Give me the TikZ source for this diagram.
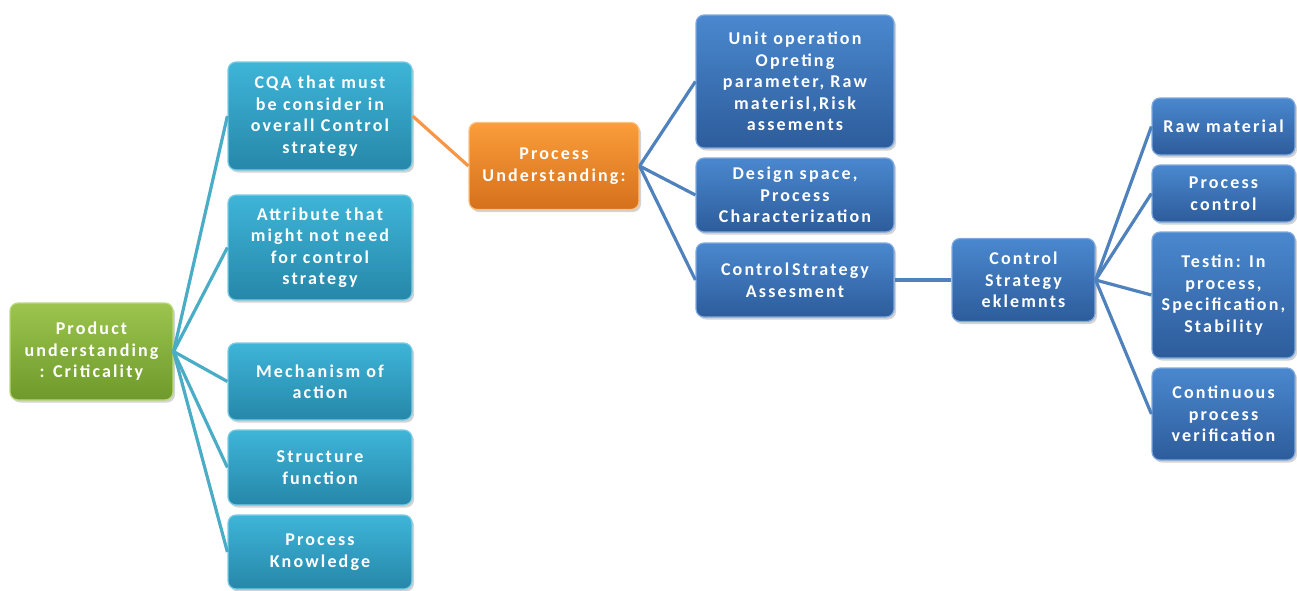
\documentclass[tikz,border=0pt]{standalone}
\usepackage{fontspec}
\setmainfont{Carlito}[LetterSpace=12]
\usetikzlibrary{shadows}

\definecolor{grnTop}{HTML}{9CC44E}
\definecolor{grnBot}{HTML}{6E9A2B}
\definecolor{grnEdge}{HTML}{B9D97A}
\definecolor{cyaTop}{HTML}{3EB5D8}
\definecolor{cyaBot}{HTML}{2687A9}
\definecolor{cyaEdge}{HTML}{7ACDE6}
\definecolor{orgTop}{HTML}{FA9D3A}
\definecolor{orgBot}{HTML}{D5701C}
\definecolor{orgEdge}{HTML}{FCC07E}
\definecolor{bluTop}{HTML}{4A88CF}
\definecolor{bluBot}{HTML}{2D5C9B}
\definecolor{bluEdge}{HTML}{7FA9DE}
\definecolor{cyaLine}{HTML}{4BACC6}
\definecolor{orgLine}{HTML}{F79646}
\definecolor{bluLine}{HTML}{4F81BD}

\tikzset{
  x=1pt, y=-1pt,
  box/.style={rounded corners=8pt, align=center, text=white, inner sep=1pt,
    font=\bfseries\fontsize{18}{21.5}\selectfont, line width=1.2pt,
    drop shadow={opacity=0.35, shadow xshift=2pt, shadow yshift=-2.5pt}},
  sz/.style 2 args={minimum width=#1pt, minimum height=#2pt},
  greenbox/.style={box, top color=grnTop, bottom color=grnBot, draw=grnEdge},
  cyanbox/.style={box, top color=cyaTop, bottom color=cyaBot, draw=cyaEdge},
  orangebox/.style={box, top color=orgTop, bottom color=orgBot, draw=orgEdge},
  bluebox/.style={box, top color=bluTop, bottom color=bluBot, draw=bluEdge},
  link/.style={line width=3.2pt},
}

\begin{document}
\begin{tikzpicture}
\useasboundingbox (0,0) rectangle (1297,590);

% root and first level
\node[greenbox, sz={163}{97}] (prod) at (91.5,351.5) {Product\\understanding\\: Criticality};
\node[cyanbox, sz={184}{108}] (cqa) at (320,116) {CQA that must\\be consider in\\overall Control\\strategy};
\node[cyanbox, sz={184}{105}] (attr) at (320,247.5) {Attribute that\\might not need\\for control\\strategy};
\node[cyanbox, sz={184}{77}] (mech) at (320,381.5) {Mechanism of\\action};
\node[cyanbox, sz={184}{75}] (struc) at (320,467.5) {Structure\\function};
\node[cyanbox, sz={184}{74}] (pknow) at (320,552) {Process\\Knowledge};

% process understanding branch
\node[orangebox, sz={170}{87}] (pu) at (554,166) {Process\\Understanding:};
\node[bluebox, sz={198}{133}] (unit) at (795,81.5) {Unit operation\\Opreting\\parameter, Raw\\materisl,Risk\\assements};
\node[bluebox, sz={198}{74}] (design) at (795,195) {Design space,\\Process\\Characterization};
\node[bluebox, sz={198}{74}] (csa) at (795,280) {Control\,Strategy\\Assesment};

% control strategy elements
\node[bluebox, sz={143}{83}] (cse) at (1023.5,280) {Control\\Strategy\\eklemnts};
\node[bluebox, sz={143}{57}] (raw) at (1223.5,126.5) {Raw material};
\node[bluebox, sz={143}{57}] (pctl) at (1223.5,193.5) {Process\\control};
\node[bluebox, sz={143}{126}] (test) at (1223.5,295) {Testin: In\\process,\\Specification,\\Stability};
\node[bluebox, sz={143}{92}] (cont) at (1223.5,414) {Continuous\\process\\verification};

% connectors
\foreach \t in {cqa,attr,mech,struc,pknow}
  \draw[link, cyaLine] (prod.east) -- (\t.west);
\draw[link, orgLine] (cqa.east) -- (pu.west);
\foreach \t in {unit,design,csa}
  \draw[link, bluLine] (pu.east) -- (\t.west);
\draw[link, bluLine] (csa.east) -- (cse.west);
\foreach \t in {raw,pctl,test,cont}
  \draw[link, bluLine] (cse.east) -- (\t.west);
\end{tikzpicture}
\end{document}
